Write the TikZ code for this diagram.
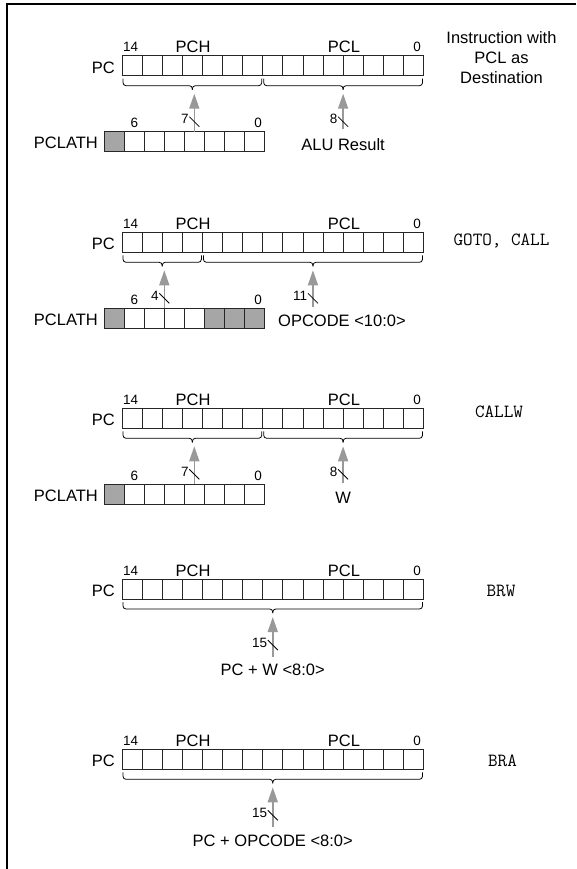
\documentclass[tikz,border=0pt]{standalone}
\usepackage{fontspec}
\setmainfont{Liberation Sans}
\usetikzlibrary{arrows.meta,calc}

\definecolor{busgray}{HTML}{999999}
\definecolor{lathgray}{HTML}{A6A6A6}

\tikzset{
  regcell/.style={draw=black!85, line width=0.8pt, minimum width=20.1pt, minimum height=20pt, inner sep=0pt, outer sep=0pt},
  lathcell/.style={regcell, minimum width=20pt},
  lbl/.style={inner sep=0pt, font=\fontsize{16.5}{20}\selectfont},
  bitnum/.style={inner sep=0pt, font=\fontsize{13.5}{16}\selectfont},
  instr/.style={inner sep=0pt, font=\ttfamily\fontsize{18.6}{20}\selectfont},
  busarrow/.style={draw=busgray, line width=1.6pt, -{Triangle[length=15pt,width=10pt]}, shorten >=4pt},
  bracepath/.style={draw=black, line width=0.8pt, rounded corners=3pt},
  widthtick/.style={draw=black, line width=0.8pt}
}

% 15 bit program counter, #1 = prefix
\newcommand{\pcreg}[1]{%
  \foreach \i in {0,...,14}
    \node[regcell] (#1\i) at ({132.05+20.1*\i},10) {};
  \node[lbl, anchor=base east] (#1pc) at (115,17.5) {PC};
  \node[bitnum, anchor=base west] (#1msb) at (123,-4) {14};
  \node[lbl, anchor=base] (#1pch) at (193,-3) {PCH};
  \node[lbl, anchor=base] (#1pcl) at (344,-3) {PCL};
  \node[bitnum, anchor=base east] (#1lsb) at (421,-4) {0};
}
% PCLATH, #1 = prefix, #2 = fills
\newcommand{\lathreg}[2]{%
  \foreach \f [count=\i from 0] in {#2}
    \node[lathcell, fill=\f] (#1\i) at ({114.3+20*\i},86) {};
  \node[lbl, anchor=base east] (#1name) at (98,93) {PCLATH};
  \node[bitnum, anchor=base] (#1msb) at (134.3,72) {6};
  \node[bitnum, anchor=base east] (#1lsb) at (262,72) {0};
}
% brace under cells #1..#2, tip coordinate #3
\newcommand{\regbrace}[3]{%
  \coordinate (#3l) at ([xshift=1pt,yshift=-3pt]#1.south west);
  \coordinate (#3r) at ([xshift=-1pt,yshift=-3pt]#2.south east);
  \coordinate (#3m) at ($(#3l)!0.5!(#3r)$);
  \coordinate (#3) at ([yshift=-11pt]#3m);
  \draw[bracepath] (#3l) -- ([yshift=-7pt]#3l) -- ([yshift=-7pt]#3m) -- (#3);
  \draw[bracepath] (#3r) -- ([yshift=-7pt]#3r) -- ([yshift=-7pt]#3m) -- (#3);
}
% bus width mark
\newcommand{\buswidth}[3]{%
  \coordinate (#1) at (#2 |- 0,66);
  \draw[widthtick] ([shift={(-5pt,5pt)}]#1) -- ([shift={(5pt,-5pt)}]#1);
  \node[bitnum, anchor=base east] (#1n) at ([shift={(-5.5pt,-2pt)}]#1) {#3};
}

\begin{document}
\begin{tikzpicture}[x=1pt, y=-1pt]
\useasboundingbox (0,0) rectangle (576,869);
\draw[line width=2pt] (576,4.3) -- (7,4.3) -- (7,869);

% PCL as destination
\begin{scope}[shift={(0,55.7)}]
\pcreg{a}
\lathreg{la}{lathgray,white,white,white,white,white,white,white}
\regbrace{a0}{a6}{ta}
\regbrace{a7}{a14}{tb}
\node[lbl, anchor=base] (alu) at (tb |- 0,95) {ALU Result};
\draw[busarrow] (la4.north) -- (la4.north |- ta);
\draw[busarrow, shorten <=10pt] (tb |- alu.north) -- (tb);
\buswidth{wa}{la4.north}{7}
\buswidth{wb}{tb}{8}
\node[lbl, align=center, anchor=north] (ia) at (501.5,-24.3) {Instruction with\\PCL as\\Destination};
\end{scope}

% GOTO, CALL
\begin{scope}[shift={(0,232.3)}]
\pcreg{b}
\lathreg{lb}{lathgray,white,white,white,white,lathgray,lathgray,lathgray}
\regbrace{b0}{b3}{tc}
\regbrace{b4}{b14}{td}
\node[lbl, anchor=base west] (opc) at (278,94) {OPCODE <10:0>};
\draw[busarrow] (lb2.north east) -- (lb2.north east |- tc);
\draw[busarrow, shorten <=8pt] (td |- opc.north) -- (td);
\buswidth{wc}{lb2.north east}{4}
\buswidth{wd}{td}{11}
\node[instr, anchor=base] (ib) at (501.5,13.4) {GOTO, CALL};
\end{scope}

% CALLW
\begin{scope}[shift={(0,408.3)}]
\pcreg{c}
\lathreg{lc}{lathgray,white,white,white,white,white,white,white}
\regbrace{c0}{c6}{te}
\regbrace{c7}{c14}{tf}
\node[lbl, anchor=base] (wreg) at (tf |- 0,94.7) {W};
\draw[busarrow] (lc4.north) -- (lc4.north |- te);
\draw[busarrow, shorten <=8pt] (tf |- wreg.north) -- (tf);
\buswidth{we}{lc4.north}{7}
\buswidth{wf}{tf}{8}
\node[instr, anchor=base] (ic) at (499,9) {CALLW};
\end{scope}

% BRW
\begin{scope}[shift={(0,579)}]
\pcreg{d}
\regbrace{d0}{d14}{tg}
\node[lbl, anchor=base] (brw) at (tg |- 0,96) {PC + W <8:0>};
\draw[busarrow, shorten <=6.5pt] (tg |- brw.north) -- (tg);
\buswidth{wg}{tg}{15}
\node[instr, anchor=base] (id) at (501,17.7) {BRW};
\end{scope}

% BRA
\begin{scope}[shift={(0,749.3)}]
\pcreg{e}
\regbrace{e0}{e14}{th}
\node[lbl, anchor=base] (bra) at (th |- 0,96.7) {PC + OPCODE <8:0>};
\draw[busarrow, shorten <=7pt] (th |- bra.north) -- (th);
\buswidth{wh}{th}{15}
\node[instr, anchor=base] (ie) at (502.5,17.4) {BRA};
\end{scope}
\end{tikzpicture}
\end{document}
